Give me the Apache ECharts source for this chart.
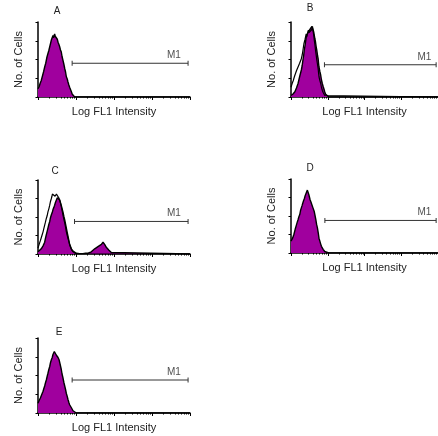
<!DOCTYPE html>
<html><head><meta charset="utf-8">
<script src="https://cdn.jsdelivr.net/npm/echarts@6/dist/echarts.min.js"></script>
<style>html,body{margin:0;padding:0;background:#fff}#c{width:438px;height:436px}</style>
</head><body><div id="c"></div>
<script>
// Panel labels
const panels = ['A', 'B', 'C', 'D', 'E'];
// Histogram data: [channel (0-1024, 256 per decade), relative cell count]
const filledA = [[0,11],[8,14],[14,18],[22,22],[30,28],[38,34],[45,40],[52,45],[60,53],[67,58],[73,62],[79,64],[84,71],[90,76],[96,78],[101,82],[105,79],[108,80],[112,84],[116,81],[119,83],[124,79],[130,77],[135,73],[141,70],[146,67],[151,63],[157,60],[162,54],[168,49],[174,44],[180,38],[186,33],[191,27],[197,24],[202,20],[208,16],[213,13],[219,10],[225,7],[230,4],[236,2],[247,0],[1024,0]];
const filledB = [[0,2],[14,4],[27,7],[38,12],[49,18],[60,27],[72,36],[78,42],[83,49],[88,55],[92,62],[99,70],[106,80],[113,84],[121,87],[128,85],[135,91],[141,90],[146,94],[150,92],[155,89],[159,86],[162,84],[166,78],[171,73],[176,66],[180,62],[185,55],[189,51],[192,45],[195,40],[201,34],[207,29],[212,23],[218,18],[224,14],[229,11],[235,7],[240,4],[250,2],[263,0],[1024,0]];
const openB = [[0,13],[8,18],[16,22],[22,26],[27,29],[38,35],[49,40],[60,45],[72,51],[78,56],[83,62],[86,66],[90,71],[98,77],[106,84],[109,80],[112,82],[117,86],[121,89],[126,86],[130,84],[135,85],[139,87],[145,90],[150,94],[153,89],[157,84],[160,80],[162,76],[167,69],[171,62],[176,55],[180,49],[185,43],[189,38],[192,32],[195,27],[201,22],[207,18],[212,13],[218,9],[224,6],[229,4],[235,2],[240,0],[1024,0]];
const filledC = [[0,3],[11,5],[22,7],[34,11],[45,16],[50,21],[56,26],[62,31],[67,35],[73,40],[79,44],[84,49],[90,53],[96,56],[101,60],[107,63],[112,66],[118,70],[124,73],[130,76],[135,78],[139,76],[142,75],[146,73],[150,71],[155,67],[159,64],[164,60],[168,57],[174,51],[180,46],[186,40],[191,35],[197,29],[202,24],[208,18],[213,13],[219,10],[225,7],[230,5],[236,4],[247,2],[258,1],[280,0.5],[303,0.5],[320,1],[337,1],[348,2],[359,3],[370,5],[382,7],[393,9],[404,10],[415,12],[427,13],[432,15],[438,16],[444,14],[449,13],[455,11],[460,9],[466,8],[472,7],[478,5],[483,4],[494,2],[505,0],[1024,0]];
const openC = [[0,8],[6,12],[11,15],[16,18],[22,22],[28,26],[34,30],[40,35],[45,39],[50,43],[56,48],[62,52],[67,57],[73,61],[79,66],[84,71],[90,75],[94,78],[97,81],[101,80],[106,82],[110,80],[115,78],[119,80],[124,81],[130,79],[135,80],[140,76],[146,73],[151,69],[157,64],[162,59],[168,53],[174,47],[180,42],[186,36],[191,30],[197,25],[202,21],[208,17],[213,13],[219,9],[225,6],[230,4],[236,3],[247,1],[258,0],[1024,0]];
const filledD = [[0,16],[6,18],[11,20],[16,22],[20,25],[29,32],[38,38],[44,42],[49,45],[55,49],[61,52],[66,57],[72,61],[77,64],[83,68],[88,71],[94,74],[98,77],[101,79],[106,81],[110,83],[114,85],[117,87],[120,83],[124,79],[128,76],[133,72],[139,69],[146,65],[153,61],[162,56],[168,50],[173,45],[178,39],[184,34],[190,27],[195,20],[201,16],[207,12],[212,9],[218,7],[224,5],[229,3],[235,2],[240,1],[263,0],[1024,0]];
const filledE = [[0,13],[6,16],[11,18],[16,20],[22,22],[28,26],[34,29],[40,33],[45,36],[50,40],[56,44],[62,49],[67,53],[73,58],[79,62],[84,67],[90,71],[96,74],[101,78],[105,79],[108,80],[110,82],[112,84],[116,81],[119,80],[124,77],[128,76],[135,74],[142,71],[149,65],[157,58],[162,52],[168,47],[174,41],[180,36],[186,31],[191,26],[197,22],[202,18],[208,14],[213,11],[219,9],[225,7],[230,5],[236,3],[242,2],[247,1],[258,0],[1024,0]];
const filledData = [filledA, filledB, filledC, filledD, filledE];
const openData = [null, openB, openC, null, null];
// M1 marker: start channel, end channel, level
const m1Start = [230, 233, 246, 236, 230];
const m1End = [1011, 1011, 1011, 1011, 1011];
const m1Level = [45, 43, 44, 44, 44];
const m1LabelX = [916, 929, 916, 929, 916];
// Axis ticks
const xMajorTicks = [0, 256, 512, 768, 1024];
const xMinorTicks = [];
for (let d = 0; d < 4; d++) for (let k = 2; k <= 9; k++) xMinorTicks.push(Math.round(256 * (d + Math.log10(k))));
const yTicks = [0, 25, 50, 75, 100];
const xName = 'Log FL1 Intensity';
const yName = 'No. of Cells';

// Layout (positions only)
const gLeft = [38, 291, 38, 291, 38];
const gTop = [22, 22, 180, 179, 338];
const gHeight = [75, 75, 74, 74, 75];
const gWidth = 152;
const titlePos = [[57, 6], [310, 3], [55, 166], [310, 163], [59, 327]];

const FONT = 'Liberation Sans, Arial, sans-serif';
const TXT = '#222';
const MAG = '#a0009e';

const grid = [], xAxis = [], yAxis = [], series = [], title = [];
panels.forEach((p, i) => {
  grid.push({left: gLeft[i], top: gTop[i], width: gWidth, height: gHeight[i], containLabel: false});
  title.push({text: p, left: titlePos[i][0], top: titlePos[i][1], textAlign: 'center', padding: 0,
    textStyle: {fontSize: 10, fontWeight: 'normal', color: TXT, fontFamily: FONT}});
  xAxis.push({type: 'value', gridIndex: i, min: 0, max: 1024, interval: 256,
    name: xName, nameLocation: 'middle', nameGap: 9,
    nameTextStyle: {fontSize: 11, color: TXT, fontFamily: FONT},
    axisLine: {show: true, onZero: false, lineStyle: {color: '#000', width: 1.5}},
    axisTick: {show: true, length: 3, inside: false, lineStyle: {color: '#000', width: 1}, customValues: xMajorTicks},
    axisLabel: {show: false}, splitLine: {show: false}});
  xAxis.push({type: 'value', gridIndex: i, min: 0, max: 1024, position: 'bottom',
    axisLine: {show: false}, axisLabel: {show: false}, splitLine: {show: false},
    axisTick: {show: true, length: 1.5, lineStyle: {color: '#000', width: 1}, customValues: xMinorTicks}});
  yAxis.push({type: 'value', gridIndex: i, min: 0, max: 100, interval: 25,
    name: yName, nameLocation: 'middle', nameGap: 14, nameRotate: 90,
    nameTextStyle: {fontSize: 11, color: TXT, fontFamily: FONT},
    axisLine: {show: true, lineStyle: {color: '#000', width: 1.5}},
    axisTick: {show: true, length: 2.5, lineStyle: {color: '#000', width: 1}},
    axisLabel: {show: false}, splitLine: {show: false}});
  series.push({type: 'line', xAxisIndex: 2 * i, yAxisIndex: i, data: filledData[i], symbol: 'none', silent: true,
    lineStyle: {color: '#000', width: 1.4}, areaStyle: {color: MAG, opacity: 1}, z: 2});
  if (openData[i]) {
    series.push({type: 'line', xAxisIndex: 2 * i, yAxisIndex: i, data: openData[i], symbol: 'none', silent: true,
      lineStyle: {color: '#000', width: 1.2}, z: 3});
  }
  series.push({type: 'line', xAxisIndex: 2 * i, yAxisIndex: i, data: [[m1Start[i], m1Level[i]], [m1End[i], m1Level[i]]],
    symbol: 'rect', symbolSize: [1, 5], itemStyle: {color: '#333'}, lineStyle: {color: '#333', width: 1}, silent: true, z: 4});
  series.push({type: 'scatter', xAxisIndex: 2 * i, yAxisIndex: i, data: [[m1LabelX[i], m1Level[i]]], symbolSize: 0, silent: true,
    label: {show: true, position: 'top', distance: 3, formatter: 'M1', fontSize: 10, color: TXT, fontFamily: FONT}, z: 4});
});

const chart = echarts.init(document.getElementById('c'), null, {renderer: 'canvas'});
chart.setOption({animation: false, backgroundColor: '#fff', title, grid, xAxis, yAxis, series});
</script></body></html>
